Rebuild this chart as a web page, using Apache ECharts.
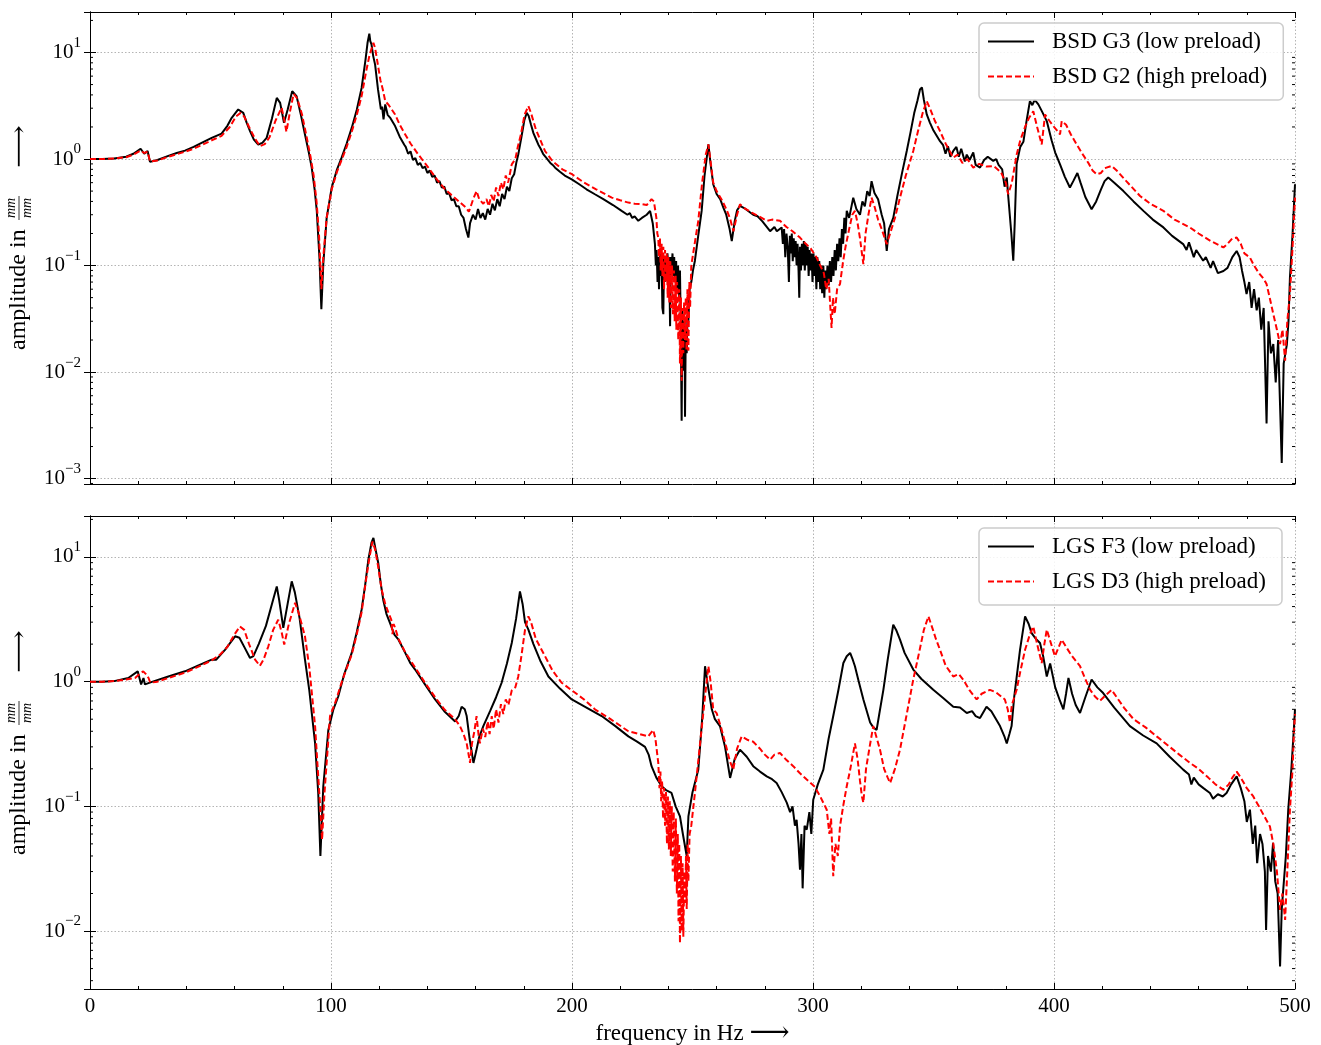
<!DOCTYPE html>
<html>
<head>
<meta charset="utf-8">
<script src="https://cdn.jsdelivr.net/npm/echarts@6/dist/echarts.min.js"></script>
<style>
html,body{margin:0;padding:0;background:#fff;}
#chart{width:1321px;height:1045px;}
</style>
</head>
<body>
<div id="chart"></div>
<script>
// ---------- DATA (frequency in Hz, amplitude in mm/mm) ----------
const bsdG3 = [[0,1.00],[5,1.00],[10,1.01],[15,1.05],[18,1.12],[21,1.25],[22.5,1.12],[23.9,1.19],[24.9,0.94],[28,0.98],[32.5,1.07],[36,1.14],[39.4,1.20],[43,1.30],[46.3,1.42],[50.5,1.58],[54.6,1.73],[57,2.05],[58.8,2.44],[61.5,2.92],[63.6,2.71],[65,2.20],[66.4,1.83],[68,1.52],[69.8,1.37],[71.5,1.42],[73.3,1.58],[75.5,2.40],[77.5,3.75],[78.9,3.37],[80.5,2.19],[82,2.90],[83.9,4.34],[85.7,3.90],[87.5,2.60],[89.2,1.70],[90.8,1.15],[92,0.83],[93.2,0.52],[94.1,0.326],[95.2,0.119],[96,0.039],[96.8,0.103],[98.2,0.28],[100.3,0.54],[102.5,0.80],[104.4,1.03],[106.5,1.40],[108.6,1.96],[110.7,2.90],[112.7,4.65],[114.3,8.5],[115.2,12.5],[115.9,15.0],[116.3,12.8],[116.8,11.9],[117.5,9.3],[118.3,7.7],[119.5,4.5],[120.7,2.92],[121.2,3.10],[121.8,2.36],[122.5,3.26],[123.5,2.60],[124.5,2.45],[126.6,2.04],[128.5,1.62],[130.4,1.36],[131,1.30],[132,1.12],[133,1.18],[134,0.98],[135,1.02],[136,0.88],[137,0.92],[138,0.82],[139,0.85],[140,0.74],[141,0.78],[142,0.68],[143,0.70],[144,0.60],[145,0.62],[146,0.54],[147,0.55],[148,0.47],[149,0.48],[150,0.41],[151,0.42],[152,0.36],[153,0.36],[154,0.30],[155,0.28],[156,0.22],[157,0.183],[157.7,0.25],[158.9,0.30],[160,0.27],[161,0.34],[162,0.28],[163,0.31],[164,0.27],[165,0.34],[166,0.30],[167,0.38],[168,0.33],[169,0.42],[170,0.36],[171,0.47],[172,0.42],[173,0.55],[174,0.50],[175,0.66],[176,0.72],[177,0.95],[177.7,1.10],[179,1.60],[180.2,2.30],[181.2,2.71],[182,2.55],[183,2.10],[184,1.75],[185,1.55],[186,1.37],[187,1.25],[188,1.12],[189,1.05],[190,0.98],[191,0.92],[192,0.88],[193,0.83],[195,0.76],[197,0.70],[199.9,0.645],[203,0.58],[206,0.52],[209.5,0.467],[213,0.42],[217,0.37],[220.6,0.326],[223,0.30],[224,0.31],[225,0.28],[226,0.29],[227.5,0.263],[229,0.28],[231,0.30],[232.4,0.326],[233.5,0.25],[234.4,0.16],[234.8,0.10],[235.1,0.14],[235.5,0.07],[235.8,0.12],[236.1,0.06],[236.5,0.13],[236.8,0.08],[237.2,0.11],[237.5,0.04],[237.9,0.035],[238.2,0.12],[238.5,0.07],[238.9,0.12],[239.2,0.08],[239.6,0.13],[240,0.09],[240.3,0.12],[240.7,0.027],[241,0.12],[241.3,0.09],[241.7,0.13],[242,0.08],[242.4,0.12],[242.8,0.07],[243.2,0.11],[243.6,0.06],[244,0.10],[244.4,0.05],[244.8,0.09],[245.1,0.03],[245.5,0.0035],[245.8,0.04],[246.1,0.015],[246.4,0.0103],[246.7,0.03],[246.9,0.0038],[247.2,0.025],[247.6,0.015],[248,0.04],[248.3,0.03],[248.8,0.06],[249.5,0.07],[250.2,0.09],[251,0.111],[252.5,0.20],[253.8,0.326],[255,0.70],[256.6,1.37],[257.5,0.90],[258.6,0.58],[260,0.47],[261.5,0.42],[262.8,0.35],[264,0.30],[265.4,0.22],[266.3,0.17],[267.5,0.26],[268.5,0.33],[269.7,0.363],[272,0.34],[275.2,0.30],[277,0.29],[279,0.26],[282.2,0.21],[284,0.23],[285,0.21],[287,0.228],[287.5,0.16],[288,0.22],[288.5,0.12],[289,0.20],[289.5,0.15],[290,0.07],[290.4,0.19],[290.8,0.13],[291.2,0.20],[291.6,0.11],[292,0.18],[292.4,0.12],[292.8,0.17],[293.2,0.10],[293.6,0.16],[294,0.09],[294.3,0.05],[294.6,0.15],[295,0.09],[295.4,0.16],[295.8,0.10],[296.2,0.17],[296.6,0.09],[297,0.16],[297.4,0.10],[297.8,0.15],[298.2,0.08],[298.6,0.14],[299,0.09],[299.4,0.13],[299.8,0.07],[300.2,0.13],[300.6,0.08],[301,0.12],[301.4,0.06],[301.8,0.12],[302.2,0.07],[302.6,0.11],[303,0.06],[303.4,0.10],[303.8,0.055],[304.3,0.10],[304.7,0.05],[305.1,0.09],[305.5,0.06],[306,0.10],[306.5,0.065],[307,0.11],[307.5,0.07],[308,0.12],[308.5,0.08],[309,0.14],[309.5,0.09],[310,0.16],[310.5,0.11],[311,0.18],[311.5,0.12],[312,0.22],[312.5,0.16],[313,0.28],[313.5,0.20],[314,0.326],[315,0.28],[316.7,0.434],[318,0.34],[319.5,0.30],[320.5,0.40],[321.5,0.36],[322.5,0.50],[323.5,0.45],[324.3,0.62],[325.5,0.48],[327,0.42],[328.5,0.30],[329.5,0.25],[330.6,0.137],[331.5,0.22],[333.3,0.28],[335,0.45],[337,0.75],[338.9,1.19],[340.5,1.80],[342,2.70],[343.3,3.50],[344.4,4.50],[345.2,4.70],[346,3.60],[347.2,2.62],[348.5,2.20],[350,1.85],[352.7,1.47],[354,1.35],[355,1.12],[356,1.32],[357,1.05],[358.2,1.19],[359.5,1.30],[360.5,1.05],[361.5,1.25],[363,0.95],[363.8,1.10],[365,0.98],[366.5,1.15],[367.5,0.88],[369.3,0.83],[371,0.98],[372.5,1.05],[374.8,0.96],[376,1.00],[377,0.88],[378.5,0.80],[379.5,0.55],[380.4,0.67],[381,0.45],[381.7,0.434],[382.3,0.20],[383.1,0.111],[383.7,0.25],[384.5,0.90],[386,1.30],[387.3,1.45],[388.5,2.20],[390,3.50],[391,3.20],[392,3.60],[393.5,3.26],[395,2.80],[397,2.27],[399,1.50],[400.5,1.15],[402.5,0.89],[404.5,0.68],[406.6,0.54],[408,0.62],[409.7,0.74],[411,0.60],[413,0.44],[415.6,0.338],[417.5,0.40],[419.5,0.52],[421,0.62],[422.5,0.67],[425,0.60],[428.8,0.50],[433,0.40],[437.1,0.326],[441,0.27],[445.4,0.228],[449,0.19],[453.6,0.159],[455,0.14],[456,0.165],[458,0.12],[459,0.14],[461.9,0.111],[463,0.12],[465,0.095],[466,0.11],[468,0.085],[470.3,0.089],[472,0.095],[474,0.12],[475.8,0.137],[477,0.12],[478,0.09],[479,0.07],[479.9,0.054],[481,0.07],[482,0.04],[483,0.06],[484.1,0.038],[485,0.05],[486,0.025],[487,0.04],[488.2,0.0033],[489,0.03],[490,0.015],[491,0.0183],[492,0.008],[493,0.02],[494.5,0.0014],[495.3,0.012],[496.6,0.018],[497.3,0.03],[497.9,0.077],[499,0.20],[500,0.58]];

const bsdG2 = [[0,1.00],[5,1.00],[10,1.01],[15,1.04],[18,1.10],[21,1.20],[22.5,1.14],[23.9,1.17],[24.9,0.95],[28,0.97],[32.5,1.05],[36,1.11],[39.4,1.17],[43,1.25],[46.3,1.35],[50.5,1.50],[54.6,1.65],[58,2.00],[60.5,2.50],[62.5,2.71],[64,2.50],[66,2.00],[68.5,1.55],[70.5,1.32],[72.5,1.38],[74.5,1.60],[77,2.30],[79.5,3.03],[80.5,2.40],[81.5,1.80],[83,2.80],[84.5,4.09],[86,3.70],[88,2.60],[89.8,1.65],[91.5,1.05],[92.8,0.70],[94,0.40],[95,0.20],[96,0.06],[96.8,0.12],[98.2,0.28],[100.3,0.52],[102.5,0.76],[104.4,0.98],[106.5,1.30],[108.6,1.80],[110.7,2.60],[112.7,3.90],[114.5,6.5],[116,9.5],[117.6,12.3],[118.3,11.0],[119.2,8.3],[120.5,5.5],[121.5,4.5],[122.5,3.5],[124,3.2],[125.2,2.92],[126.6,2.62],[128.5,2.10],[130.4,1.76],[133,1.40],[136,1.12],[140.4,0.83],[144,0.64],[147,0.53],[150,0.46],[152,0.42],[154.2,0.38],[156,0.35],[157.2,0.32],[158,0.36],[159,0.42],[160.4,0.50],[161.5,0.42],[163.2,0.38],[164.5,0.42],[165.5,0.36],[166.5,0.46],[167.5,0.40],[168.5,0.54],[169.5,0.45],[170.5,0.60],[171.5,0.52],[172.5,0.70],[173.5,0.60],[175,0.89],[176.5,1.00],[177.5,1.30],[178.8,1.70],[180.3,2.60],[181.9,3.14],[183,2.70],[185,1.90],[188.8,1.19],[192,0.95],[196,0.80],[200,0.72],[205,0.60],[210,0.52],[216.5,0.434],[220,0.41],[223.4,0.39],[226,0.38],[229.2,0.376],[231,0.37],[233,0.42],[234,0.40],[235,0.28],[235.4,0.20],[235.8,0.183],[236.1,0.12],[236.5,0.18],[236.8,0.09],[237.2,0.16],[237.5,0.08],[237.9,0.15],[238.2,0.06],[238.6,0.14],[239,0.07],[239.3,0.13],[239.7,0.05],[240,0.12],[240.4,0.045],[240.8,0.11],[241.1,0.04],[241.5,0.10],[241.9,0.035],[242.3,0.09],[242.6,0.03],[243,0.08],[243.3,0.025],[243.6,0.07],[244.1,0.02],[244.5,0.06],[244.8,0.012],[245.2,0.05],[245.5,0.0083],[245.8,0.04],[246.2,0.015],[246.5,0.045],[246.9,0.02],[247.2,0.05],[247.5,0.016],[247.9,0.06],[248.3,0.0159],[248.7,0.07],[249,0.04],[249.5,0.10],[250.5,0.14],[252.4,0.263],[254,0.60],[255.5,1.10],[256.6,1.37],[257.5,0.95],[258.6,0.60],[260,0.50],[262,0.42],[264,0.34],[265.5,0.28],[267,0.21],[268.5,0.30],[269.7,0.376],[272,0.34],[275,0.31],[277.5,0.29],[280.8,0.263],[283,0.27],[286.3,0.263],[289,0.23],[291.5,0.21],[294.6,0.183],[297,0.16],[299,0.145],[301.5,0.119],[303,0.10],[304.5,0.085],[305.5,0.06],[306.5,0.075],[307.2,0.04],[307.7,0.026],[308.3,0.05],[309,0.035],[310,0.06],[311.2,0.067],[312.5,0.11],[313.5,0.15],[315,0.22],[316.3,0.30],[317.4,0.326],[318.5,0.25],[319.5,0.18],[320.3,0.13],[320.9,0.103],[321.8,0.20],[323,0.30],[324.3,0.434],[325.5,0.36],[327,0.27],[328.5,0.22],[330.6,0.159],[332,0.20],[334,0.28],[336.1,0.434],[338.5,0.70],[341.6,1.19],[343.5,1.80],[345.5,2.70],[347.2,3.50],[348.5,3.00],[350.5,2.30],[352.7,1.83],[355,1.40],[358.2,1.03],[360,1.10],[362,0.92],[364,1.00],[366.5,0.83],[369,0.90],[372,0.85],[375,0.86],[378,0.75],[380,0.60],[381,0.467],[382.5,0.60],[384.5,1.10],[386,1.50],[388,2.00],[389.5,2.40],[391.4,2.81],[393,2.00],[394.9,1.37],[396.3,2.62],[398,2.30],[400,2.00],[401.5,1.83],[402.5,1.70],[403.2,2.27],[405,2.10],[407,1.70],[409.4,1.37],[412,1.10],[414.5,0.90],[416,0.78],[417.7,0.72],[419.5,0.74],[421,0.82],[423.9,0.86],[426,0.78],[430,0.62],[435.7,0.45],[440,0.38],[445.4,0.326],[450,0.27],[456.4,0.228],[460,0.20],[465,0.17],[470.3,0.148],[472,0.16],[474,0.18],[475.8,0.183],[477.5,0.16],[479,0.13],[481.3,0.119],[483,0.10],[485,0.085],[487,0.075],[488.2,0.067],[489.5,0.05],[491,0.035],[492.5,0.025],[493.8,0.0183],[494.8,0.025],[495.9,0.0128],[496.8,0.03],[497.9,0.054],[499,0.15],[500,0.434]];

const lgsF3 = [[0,1.00],[5,1.00],[10,1.01],[15.9,1.07],[19.8,1.21],[21.2,0.95],[22.2,1.07],[22.8,0.95],[26,1.00],[32.5,1.10],[39.4,1.21],[45,1.35],[50.5,1.50],[52.4,1.50],[56,1.80],[60.2,2.31],[62,2.25],[64,1.90],[66.4,1.55],[67.8,1.60],[70,2.00],[73,2.80],[75.5,4.20],[77.5,5.80],[78.5,4.50],[80.2,2.70],[82,4.20],[83.7,6.37],[85,5.20],[87,3.20],[89.2,1.50],[91,0.85],[93.4,0.32],[94.7,0.128],[95.6,0.040],[96.8,0.145],[98.9,0.41],[101,0.60],[103,0.76],[105.5,1.15],[108.6,1.70],[110.7,2.50],[112.7,3.78],[114.2,6.0],[115.5,9.5],[116.8,13.0],[117.6,14.2],[118.5,11.5],[119.6,8.95],[120.6,6.2],[121.7,4.5],[123,3.5],[124.5,2.95],[126.3,2.38],[128,2.17],[130.8,1.70],[133,1.40],[134.9,1.25],[139,0.95],[143.2,0.72],[147,0.58],[151.5,0.48],[153,0.53],[154.2,0.63],[155.5,0.60],[156.3,0.53],[157.5,0.35],[159.1,0.223],[160.3,0.28],[161.5,0.36],[163.2,0.44],[166,0.58],[168.5,0.75],[170.8,0.98],[173,1.40],[175,2.04],[176.8,3.20],[178.4,5.30],[179.5,4.20],[180.5,3.00],[181.9,2.61],[184,2.00],[187,1.45],[190.2,1.10],[195,0.88],[199.9,0.72],[206,0.62],[212.3,0.53],[218,0.44],[223.4,0.364],[227,0.33],[230.3,0.30],[231.8,0.26],[233,0.21],[235,0.17],[237.2,0.145],[239,0.135],[241.3,0.128],[243,0.10],[244.8,0.083],[246,0.06],[247.6,0.040],[248.3,0.083],[250,0.13],[252.4,0.197],[254,0.50],[255.2,1.33],[256.5,0.90],[258,0.60],[259.3,0.50],[261.4,0.44],[263.5,0.30],[265.6,0.169],[267.5,0.24],[269.7,0.285],[272.5,0.25],[275.2,0.21],[278,0.19],[280.8,0.174],[283,0.165],[284.9,0.154],[287,0.13],[289.1,0.107],[290.5,0.09],[291.5,0.10],[292.5,0.07],[293.2,0.078],[294,0.05],[294.6,0.031],[295.2,0.06],[295.7,0.022],[296.5,0.07],[297.4,0.065],[298.5,0.09],[299.3,0.06],[300.1,0.113],[302,0.15],[304.3,0.197],[306.5,0.35],[308.4,0.53],[310.5,0.85],[312.6,1.41],[314,1.60],[315.4,1.70],[316.5,1.50],[317.4,1.33],[319,1.00],[320.9,0.72],[323.7,0.47],[325,0.43],[326.4,0.41],[327.5,0.55],[329.2,0.86],[331,1.50],[333.3,2.86],[334.5,2.60],[336.1,2.17],[338,1.70],[341.6,1.25],[345,1.05],[349.9,0.86],[354,0.74],[358.2,0.63],[361,0.62],[363.8,0.56],[366,0.58],[367.5,0.53],[369.3,0.51],[372,0.63],[374,0.58],[377.6,0.44],[379.5,0.36],[380.4,0.32],[381.5,0.38],[382.4,0.44],[383.5,0.76],[385.9,1.80],[388,3.34],[389.5,2.90],[390.7,2.45],[392.5,2.20],[394.2,2.04],[395.5,1.60],[397,1.10],[398.4,1.40],[400.5,0.90],[402.5,0.70],[403.9,0.60],[405,0.80],[406,1.07],[407.5,0.80],[409,0.65],[410.8,0.56],[413,0.75],[415.6,1.04],[418,0.90],[420.4,0.81],[425,0.62],[431.5,0.44],[437,0.37],[442.6,0.32],[448,0.25],[453.6,0.197],[456,0.18],[457,0.15],[458,0.17],[460,0.15],[462,0.14],[464.7,0.128],[466,0.115],[468,0.125],[470,0.12],[471.6,0.128],[473.5,0.15],[475.8,0.174],[477.5,0.14],[479,0.11],[480,0.075],[481.3,0.094],[482.5,0.05],[483.5,0.07],[484.3,0.035],[485.5,0.06],[486.5,0.05],[487.5,0.03],[488,0.0102],[488.8,0.04],[490,0.03],[490.9,0.051],[491.8,0.025],[492.8,0.02],[493.8,0.0052],[494.5,0.015],[495.2,0.0148],[496.2,0.04],[497.2,0.094],[498.5,0.20],[499.6,0.44],[500,0.60]];

const lgsD3 = [[0,1.00],[5,1.00],[10,1.01],[15,1.04],[18.7,1.07],[20.5,1.15],[22.1,1.21],[23.2,1.15],[24.3,1.07],[25,0.98],[28,1.00],[32.5,1.07],[39.4,1.18],[45,1.32],[50.5,1.48],[54,1.65],[57,1.90],[60,2.40],[62.2,2.77],[64,2.60],[66,2.00],[68.5,1.50],[70.5,1.34],[72,1.50],[74,1.92],[76,2.60],[78.1,3.14],[79.5,2.50],[80.6,1.98],[82.5,2.90],[85.1,4.28],[86.5,3.60],[89.2,2.31],[91,1.30],[93.4,0.44],[94.5,0.20],[95.4,0.107],[96.3,0.054],[97.3,0.128],[99.6,0.53],[102,0.70],[104.5,1.00],[108.6,1.65],[110.7,2.40],[112.7,3.60],[114.5,6.5],[116,10.0],[117.2,13.3],[118.3,11.5],[119.6,8.3],[121,5.5],[122.5,4.2],[124,3.5],[125,3.14],[125.5,2.40],[126,2.90],[126.6,2.70],[128,2.20],[130.8,1.72],[134.9,1.30],[139,0.98],[143.2,0.75],[147,0.60],[151.5,0.50],[153.5,0.44],[155,0.38],[156.3,0.32],[157.7,0.223],[158.5,0.32],[159.5,0.40],[160.4,0.53],[161.2,0.38],[161.8,0.32],[163,0.42],[164,0.36],[165,0.48],[165.8,0.38],[166.7,0.53],[167.5,0.42],[168.5,0.60],[169.5,0.47],[170.5,0.66],[171.5,0.55],[172.5,0.72],[173.6,0.65],[175,0.85],[176.5,0.90],[177.7,1.10],[179,1.60],[180.5,2.60],[181.9,3.34],[183,3.00],[185,2.20],[188.8,1.60],[192,1.22],[195.7,0.98],[200,0.85],[205,0.72],[209.5,0.60],[216,0.50],[223.4,0.40],[228,0.38],[231.6,0.364],[233.7,0.41],[234.6,0.35],[235.8,0.223],[236.3,0.14],[236.7,0.19],[237,0.11],[237.4,0.16],[237.8,0.08],[238.2,0.14],[238.6,0.07],[239,0.13],[239.4,0.05],[239.8,0.12],[240.2,0.045],[240.6,0.11],[241,0.04],[241.4,0.10],[241.8,0.03],[242.2,0.09],[242.7,0.025],[243.1,0.08],[243.5,0.02],[243.9,0.06],[244.2,0.012],[244.5,0.05],[244.8,0.008],[245.2,0.04],[245.5,0.01],[245.9,0.035],[246.2,0.009],[246.6,0.03],[246.9,0.0168],[247.3,0.04],[247.6,0.015],[248,0.05],[248.3,0.025],[248.8,0.06],[249.5,0.07],[251,0.128],[253,0.30],[255.2,0.76],[256.6,1.33],[257.5,1.00],[258.6,0.60],[260,0.56],[262,0.42],[264,0.30],[265.5,0.23],[266.9,0.197],[268.5,0.29],[270.4,0.364],[273,0.34],[275.2,0.33],[278,0.29],[280,0.26],[282.2,0.237],[284,0.26],[286.3,0.268],[289,0.235],[291.8,0.21],[294.5,0.185],[297.4,0.164],[300.8,0.143],[303,0.12],[305.7,0.094],[306.8,0.06],[307.5,0.08],[308.4,0.0275],[309.3,0.05],[310.3,0.04],[311.2,0.069],[312.5,0.10],[314,0.145],[315.5,0.20],[317.4,0.32],[318.5,0.24],[319.5,0.16],[320.3,0.12],[320.9,0.107],[322,0.20],[323.5,0.30],[325,0.44],[326.5,0.35],[327.8,0.285],[329.5,0.20],[331,0.17],[332,0.154],[334,0.20],[336.1,0.285],[338.5,0.50],[341.6,1.04],[344,1.70],[346,2.60],[347.9,3.34],[349.5,2.70],[351,2.20],[352.7,1.80],[355,1.35],[358.2,1.10],[360.5,1.15],[362.3,1.04],[365,0.85],[367.9,0.72],[370,0.80],[373.4,0.86],[376,0.82],[379.6,0.72],[380.8,0.60],[381.7,0.47],[382.5,0.65],[384.5,0.86],[386,1.20],[388,1.80],[390,2.40],[391.4,2.77],[393,2.00],[394.9,1.41],[396,2.00],[397,2.61],[398.5,2.10],[400.4,1.60],[402,1.90],[403.2,2.17],[405,1.90],[407.5,1.60],[410.8,1.33],[413,1.05],[415,0.86],[417,0.76],[419,0.70],[421.5,0.78],[423.9,0.86],[426,0.75],[429,0.62],[433,0.50],[438,0.43],[442.6,0.364],[448,0.30],[452,0.26],[456.4,0.223],[460,0.20],[464,0.17],[467,0.15],[470.3,0.136],[472.5,0.15],[474,0.17],[475.8,0.19],[477.5,0.17],[480,0.14],[482.7,0.12],[485,0.10],[487,0.085],[489.6,0.069],[491,0.05],[492.5,0.03],[493.8,0.0148],[494.8,0.02],[495.9,0.0123],[496.8,0.03],[497.9,0.094],[499,0.20],[499.6,0.41],[500,0.55]];

const names = {
  top: ['BSD G3 (low preload)', 'BSD G2 (high preload)'],
  bottom: ['LGS F3 (low preload)', 'LGS D3 (high preload)']
};
const xTicks = [0, 100, 200, 300, 400, 500];
const topRange = [0.00089, 24.0];
const bottomRange = [0.00343, 21.3];

// ---------- CHART ----------
const FONT = '"Liberation Serif", "DejaVu Serif", serif';
const chart = echarts.init(document.getElementById('chart'), null, {renderer: 'canvas'});

function isDecade(v) {
  const l = Math.log10(v);
  return Math.abs(l - Math.round(l)) < 1e-6;
}
function yLabel(v) {
  if (!isDecade(v)) return '';
  const e = Math.round(Math.log10(v));
  return '{b|10}{s|' + (e < 0 ? '\u2212' + (-e) : String(e)) + '}';
}
const gridLine = {color: '#b4b4b4', width: 1, type: [1.5, 2]};

function mkX(grid, pos, labels) {
  return {
    type: 'value', gridIndex: grid, position: pos,
    min: xTicks[0], max: xTicks[xTicks.length - 1], interval: 100,
    axisLine: {show: true, onZero: false, lineStyle: {color: '#000', width: 1}},
    axisTick: {show: true, inside: true, length: 6, lineStyle: {color: '#000', width: 1}},
    minorTick: {show: true, splitNumber: 5, length: 3, lineStyle: {color: '#000', width: 1}},
    splitLine: {show: pos === 'bottom', lineStyle: gridLine},
    axisLabel: {show: labels, margin: 7, fontFamily: FONT, fontSize: 21, color: '#000'},
    name: labels ? 'frequency in Hz {a|\u27F6}' : '',
    nameLocation: 'middle', nameGap: 31,
    nameTextStyle: {fontFamily: FONT, fontSize: 23, color: '#000',
      rich: {a: {fontFamily: FONT, fontSize: 28, color: '#000'}}}
  };
}
function mkY(grid, pos, labels, range) {
  return {
    type: 'log', logBase: 10, gridIndex: grid, position: pos,
    min: range[0], max: range[1],
    axisLine: {show: true, lineStyle: {color: '#000', width: 1}},
    axisTick: {show: true, inside: true, length: 6, lineStyle: {color: '#000', width: 1}},
    splitLine: {show: pos === 'left', lineStyle: gridLine},
    axisLabel: {
      show: labels, margin: 9, formatter: yLabel,
      rich: {
        b: {fontFamily: FONT, fontSize: 21, color: '#000', lineHeight: 34, verticalAlign: 'middle'},
        s: {fontFamily: FONT, fontSize: 15, color: '#000', lineHeight: 34, verticalAlign: 'top'}
      }
    }
  };
}
function minorVals(range) {
  const out = [];
  for (let e = -4; e <= 2; e++) {
    for (let m = 2; m <= 9; m++) {
      const v = m * Math.pow(10, e);
      if (v > range[0] && v < range[1]) out.push([0, v]);
    }
  }
  return out;
}
function minorTickSeries(xi, yi, range) {
  return {
    type: 'custom', xAxisIndex: xi, yAxisIndex: yi, silent: true, z: 5,
    data: minorVals(range),
    renderItem: function (params, api) {
      const v = api.value(1);
      const pL = api.coord([xTicks[0], v]);
      const pR = api.coord([xTicks[xTicks.length - 1], v]);
      return {
        type: 'group',
        children: [
          {type: 'line', shape: {x1: pL[0], y1: pL[1], x2: pL[0] + 3, y2: pL[1]}, style: {stroke: '#000', lineWidth: 1}},
          {type: 'line', shape: {x1: pR[0] - 3, y1: pR[1], x2: pR[0], y2: pR[1]}, style: {stroke: '#000', lineWidth: 1}}
        ]
      };
    }
  };
}
function lineSeries(name, data, xi, yi, red) {
  return {
    name: name, type: 'line', data: data, xAxisIndex: xi, yAxisIndex: yi,
    showSymbol: false, symbol: 'none', sampling: null, z: red ? 4 : 3,
    lineStyle: red ? {color: '#ff0000', width: 2, type: [6, 3]} : {color: '#000000', width: 2},
    itemStyle: {color: red ? '#ff0000' : '#000000'},
    emphasis: {disabled: true}
  };
}
function mkLegend(data, top) {
  return {
    data: data, orient: 'vertical', left: 979, top: top,
    selectedMode: false,
    itemWidth: 46, itemHeight: 20, itemGap: 12,
    padding: [7, 16, 12, 8],
    itemStyle: {opacity: 0},
    backgroundColor: 'rgba(255,255,255,0.85)',
    borderColor: '#cccccc', borderWidth: 1.5, borderRadius: 5,
    textStyle: {fontFamily: FONT, fontSize: 23, color: '#000', padding: [0, 0, 0, 13]}
  };
}
function yTitle(y0) {
  return {
    type: 'group', x: 19, y: y0, rotation: Math.PI / 2, silent: true,
    children: [
      {type: 'text', x: 0, y: 0, style: {text: 'amplitude in', fontFamily: FONT, fontSize: 24, fill: '#000', textAlign: 'left', textVerticalAlign: 'middle'}},
      {type: 'text', x: 142, y: -8, style: {text: 'mm', fontFamily: FONT, fontStyle: 'italic', fontSize: 14, fill: '#000', textAlign: 'center', textVerticalAlign: 'middle'}},
      {type: 'line', shape: {x1: 130, y1: 0, x2: 154, y2: 0}, style: {stroke: '#000', lineWidth: 0.8}},
      {type: 'text', x: 142, y: 8, style: {text: 'mm', fontFamily: FONT, fontStyle: 'italic', fontSize: 14, fill: '#000', textAlign: 'center', textVerticalAlign: 'middle'}},
      {type: 'text', x: 182, y: 1, scaleX: 1.3, style: {text: '\u27F6', fontFamily: FONT, fontSize: 23, fill: '#000', textAlign: 'left', textVerticalAlign: 'middle'}}
    ]
  };
}

const option = {
  animation: false,
  backgroundColor: '#ffffff',
  grid: [
    {left: 90, top: 12, width: 1205, height: 472, containLabel: false, outerBoundsMode: 'none'},
    {left: 90, top: 516, width: 1205, height: 473, containLabel: false, outerBoundsMode: 'none'}
  ],
  xAxis: [mkX(0, 'bottom', false), mkX(0, 'top', false), mkX(1, 'bottom', true), mkX(1, 'top', false)],
  yAxis: [mkY(0, 'left', true, topRange), mkY(0, 'right', false, topRange), mkY(1, 'left', true, bottomRange), mkY(1, 'right', false, bottomRange)],
  legend: [mkLegend(names.top, 23), mkLegend(names.bottom, 528)],
  series: [
    lineSeries(names.top[0], bsdG3, 0, 0, false),
    lineSeries(names.top[1], bsdG2, 0, 0, true),
    lineSeries(names.bottom[0], lgsF3, 2, 2, false),
    lineSeries(names.bottom[1], lgsD3, 2, 2, true),
    minorTickSeries(0, 0, topRange),
    minorTickSeries(2, 2, bottomRange)
  ],
  graphic: [yTitle(350), yTitle(855)]
};
chart.setOption(option);
</script>
</body>
</html>
